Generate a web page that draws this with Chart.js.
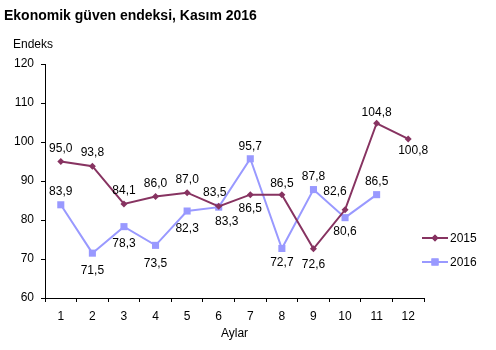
<!DOCTYPE html>
<html>
<head>
<meta charset="utf-8">
<script src="https://cdn.jsdelivr.net/npm/chart.js@4"></script>
<style>
    body { margin: 0; background: #fff; }
    #wrap { width: 496px; height: 350px; }
</style>
</head>
<body>
<div id="wrap"><canvas id="chart" width="496" height="350"></canvas></div>
<script>
const months = ['1', '2', '3', '4', '5', '6', '7', '8', '9', '10', '11', '12'];
const values2015 = [95.0, 93.8, 84.1, 86.0, 87.0, 83.5, 86.5, 86.5, 72.6, 82.6, 104.8, 100.8];
const values2016 = [83.9, 71.5, 78.3, 73.5, 82.3, 83.3, 95.7, 72.7, 87.8, 80.6, 86.5];
const yTicks = [60, 70, 80, 90, 100, 110, 120];

const color2015 = '#873361';
const color2016 = '#9999ff';
const FONT = 'Arial, "Liberation Sans", sans-serif';

// where each value label sits: [dx, dy] from the point
const labelShift = [
    [[0, -13], [0, -13], [0, -13], [0, -13], [0, -13], [-4, -14], [0, 14], [0, -11], [0, 16], [-10, -18], [0, -11], [5, 12]],
    [[0, -13], [0, 18], [0, 17], [0, 18], [0, 18], [8, 15], [0, -12], [0, 14], [0, -13], [0, 14], [0, -13]]
];

const fmt = v => v.toFixed(1).replace('.', ',');

const extras = {
    id: 'extras',
    afterDatasetsDraw(chart) {
        const ctx = chart.ctx;
        ctx.save();
        ctx.fillStyle = '#000';
        ctx.font = '12px ' + FONT;
        ctx.textAlign = 'center';
        ctx.textBaseline = 'middle';
        chart.data.datasets.forEach((ds, i) => {
            const meta = chart.getDatasetMeta(i);
            meta.data.forEach((pt, j) => {
                const [dx, dy] = labelShift[i][j];
                ctx.fillText(fmt(ds.data[j]), pt.x + dx, pt.y + dy);
            });
        });

        // title and y axis caption
        ctx.textAlign = 'left';
        ctx.font = 'bold 14px ' + FONT;
        ctx.fillText('Ekonomik güven endeksi, Kasım 2016', 4, 16);
        ctx.font = '12px ' + FONT;
        ctx.fillText('Endeks', 13, 45);

        // legend
        const items = [
            { label: '2015', color: color2015, style: 'rectRot', r: 3.5, y: 238 },
            { label: '2016', color: color2016, style: 'rect', r: 5, y: 262 }
        ];
        items.forEach(it => {
            ctx.strokeStyle = it.color;
            ctx.lineWidth = 2;
            ctx.beginPath();
            ctx.moveTo(422, it.y);
            ctx.lineTo(448, it.y);
            ctx.stroke();
            ctx.fillStyle = it.color;
            Chart.helpers.drawPoint(ctx, { pointStyle: it.style, radius: it.r, borderWidth: 0 }, 435, it.y);
            ctx.fill();
            ctx.fillStyle = '#000';
            ctx.fillText(it.label, 450, it.y + 1);
        });
        ctx.restore();
    }
};

new Chart(document.getElementById('chart'), {
    type: 'line',
    data: {
        labels: months,
        datasets: [
            {
                label: '2015',
                data: values2015,
                borderColor: color2015,
                backgroundColor: color2015,
                borderWidth: 2,
                pointStyle: 'rectRot',
                pointRadius: 3.5,
                pointBorderWidth: 0,
                tension: 0
            },
            {
                label: '2016',
                data: values2016,
                borderColor: color2016,
                backgroundColor: color2016,
                borderWidth: 2,
                pointStyle: 'rect',
                pointRadius: 5,
                pointBorderWidth: 0,
                tension: 0
            }
        ]
    },
    options: {
        responsive: false,
        animation: false,
        devicePixelRatio: 1,
        layout: { padding: { left: 0, right: 72, top: 64, bottom: 0 } },
        plugins: {
            legend: { display: false },
            title: { display: false },
            tooltip: { enabled: false }
        },
        scales: {
            x: {
                offset: true,
                grid: { offset: true, drawOnChartArea: false, tickLength: 4, color: '#000' },
                border: { color: '#000', width: 1 },
                ticks: { color: '#000', font: { family: FONT, size: 12 }, padding: 7, maxRotation: 0 },
                title: { display: true, text: 'Aylar', color: '#000', font: { family: FONT, size: 12 }, padding: { top: 0, bottom: 9 } },
                afterFit(scale) { scale.height = 52; }
            },
            y: {
                min: 60,
                max: 120,
                afterBuildTicks(scale) { scale.ticks = yTicks.map(v => ({ value: v })); },
                grid: { drawOnChartArea: false, tickLength: 4, color: '#000' },
                border: { color: '#000', width: 1 },
                ticks: { color: '#000', font: { family: FONT, size: 12 }, padding: 7 },
                afterFit(scale) { scale.width = 45; }
            }
        }
    },
    plugins: [extras]
});
</script>
</body>
</html>
